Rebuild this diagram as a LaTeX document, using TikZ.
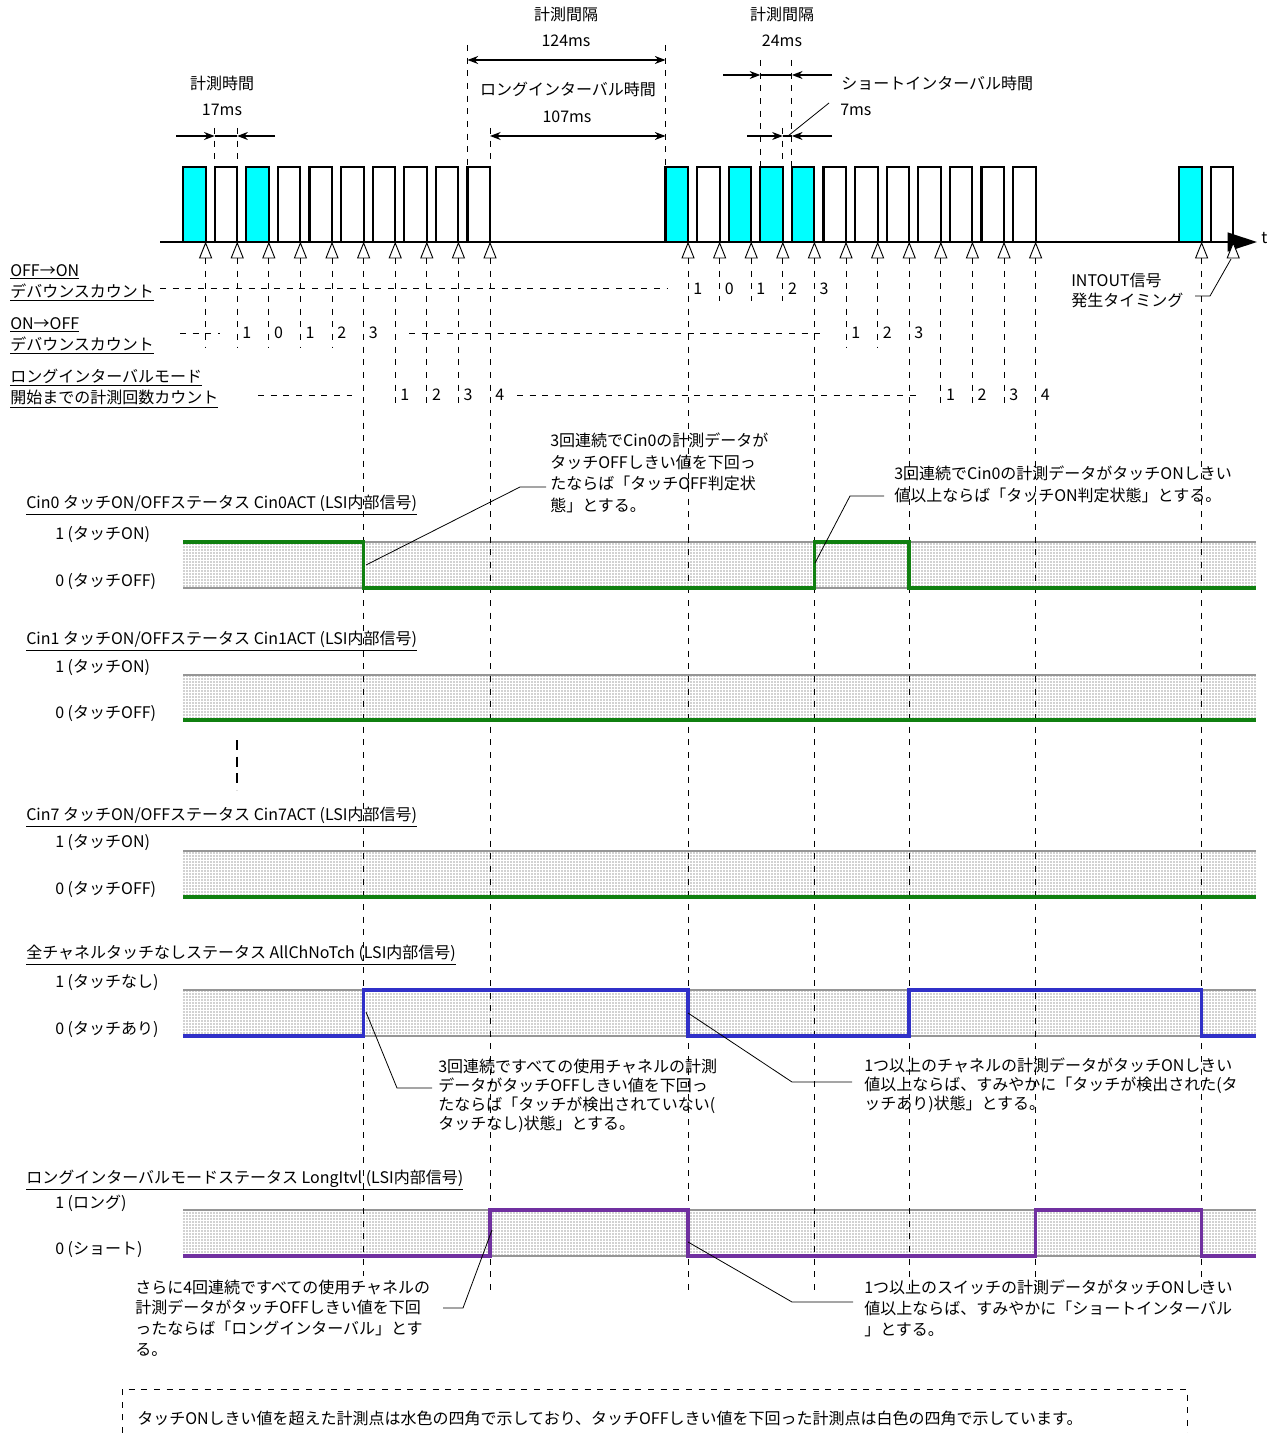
\documentclass[tikz,border=0pt]{standalone}
\usepackage{fontspec}
\setmainfont{Noto Sans CJK JP}
\usetikzlibrary{arrows.meta,patterns}
\pgfdeclarepatternformonly{finedots}{\pgfqpoint{0pt}{0pt}}{\pgfqpoint{2.25pt}{2.25pt}}{\pgfqpoint{2.25pt}{2.25pt}}{%
  \pgfpathrectangle{\pgfqpoint{0.4pt}{0.4pt}}{\pgfqpoint{1.15pt}{1.15pt}}\pgfusepath{fill}}
\definecolor{sigcyan}{RGB}{0,255,255}
\definecolor{siggreen}{RGB}{16,128,16}
\definecolor{sigblue}{RGB}{48,48,200}
\definecolor{sigpurple}{RGB}{112,48,160}
\definecolor{edgegray}{RGB}{150,150,150}
\definecolor{dotgray}{RGB}{150,150,150}
\begin{document}
\begin{tikzpicture}[x=0.75pt,y=-0.75pt,
  txtst/.style={font=\fontsize{12pt}{15pt}\selectfont, inner sep=0pt},
  annot/.style={txtst, anchor=west, align=left},
  dashln/.style={dash pattern=on 4.5pt off 5pt, line width=0.65pt},
  dimln/.style={line width=0.9pt},
  dimarr/.style={line width=0.9pt, -{Stealth[length=8pt,width=6pt]}},
  dimboth/.style={line width=0.9pt, {Stealth[length=8pt,width=6pt]}-{Stealth[length=8pt,width=6pt]}},
  leadln/.style={line width=0.6pt},
  pulsebox/.style={draw, line width=1.6pt},
  measmark/.style={draw, line width=0.7pt, fill=white, line join=miter},
  bandfill/.style={pattern=finedots, pattern color=dotgray},
  bandline/.style={draw=edgegray, line width=1.5pt},
  sigln/.style={line width=2.7pt, line join=miter},
]
\useasboundingbox (0,0) rectangle (1274,1433);
\fill[white] (0,0) rectangle (1274,1433);

% ---------------- pulses ----------------
\foreach \r/\c in {205.6/sigcyan,237.2/white,268.8/sigcyan,300.4/white,332/white,363.6/white,395.2/white,426.8/white,458.4/white,490/white,
 688/sigcyan,719.6/white,751.2/sigcyan,782.8/sigcyan,814.4/sigcyan,846/white,877.6/white,909.2/white,940.8/white,972.4/white,1004/white,1035.6/white,
 1201.6/sigcyan,1233.2/white}
  \draw[pulsebox, fill=\c] ({\r-22.5},167) rectangle (\r,242);

\draw[line width=1.5pt, -{Triangle[length=22pt,width=14pt]}] (160,242) -- (1257,242);
\node[txtst, anchor=west] (tlab) at (1261,238) {t};

\foreach \r in {205.6,237.2,268.8,300.4,332,363.6,395.2,426.8,458.4,490,
 688,719.6,751.2,782.8,814.4,846,877.6,909.2,940.8,972.4,1004,1035.6,1201.6,1233.2}
  \draw[measmark] (\r,243) -- ({\r-6},258) -- ({\r+6},258) -- cycle;

% ---------------- top dimensions ----------------
\draw[dashln] (214.7,128) -- (214.7,167);
\draw[dashln] (237.2,128) -- (237.2,167);
\node[txtst] (tmeas) at (222,83) {計測時間};
\node[txtst] (tmeasv) at (222,110) {17ms};
\coordinate (d1a) at (176,136); \coordinate (d1b) at (214.7,136);
\coordinate (d1c) at (237.2,136); \coordinate (d1d) at (275,136);
\draw[dimln] (d1b) -- (d1c);
\draw[dimarr] (d1a) -- (d1b);
\draw[dimarr] (d1d) -- (d1c);

\draw[dashln] (467.5,45) -- (467.5,167);
\draw[dashln] (665.5,45) -- (665.5,167);
\draw[dashln] (490,128) -- (490,167);
\node[txtst] (iv1) at (566,14) {計測間隔};
\node[txtst] (iv1v) at (566,41) {124ms};
\coordinate (d2a) at (467.5,60); \coordinate (d2b) at (665.5,60);
\draw[dimboth] (d2a) -- (d2b);
\node[txtst] (lit) at (568,89) {ロングインターバル時間};
\node[txtst] (litv) at (567,117) {107ms};
\coordinate (d3a) at (490,136); \coordinate (d3b) at (665.5,136);
\draw[dimboth] (d3a) -- (d3b);

\draw[dashln] (760.3,60) -- (760.3,167);
\draw[dashln] (791.9,60) -- (791.9,167);
\draw[dashln] (782.8,128) -- (782.8,167);
\node[txtst] (iv2) at (782,14) {計測間隔};
\node[txtst] (iv2v) at (782,41) {24ms};
\coordinate (d4a) at (723,75); \coordinate (d4b) at (760.3,75);
\coordinate (d4c) at (791.9,75); \coordinate (d4d) at (832,75);
\draw[dimln] (d4b) -- (d4c);
\draw[dimarr] (d4a) -- (d4b);
\draw[dimarr] (d4d) -- (d4c);
\node[txtst, anchor=west] (sit) at (841,83) {ショートインターバル時間};
\node[txtst, anchor=west] (sitv) at (840,110) {7ms};
\coordinate (d5a) at (747,136); \coordinate (d5b) at (782.8,136);
\coordinate (d5c) at (791.9,136); \coordinate (d5d) at (832,136);
\draw[dimln] (d5b) -- (d5c);
\draw[dimarr] (d5a) -- (d5b);
\draw[dimarr] (d5d) -- (d5c);
\coordinate (l7a) at (788,136); \coordinate (l7b) at (829,103);
\draw[leadln] (l7a) -- (l7b);

% ---------------- INTOUT ----------------
\node[annot, font=\fontsize{12pt}{15pt}\selectfont] (intout) at (1071,290) {INTOUT信号\\発生タイミング};
\coordinate (lia) at (1195,296); \coordinate (lib) at (1210,296); \coordinate (lic) at (1231,259);
\draw[leadln] (lia) -- (lib) -- (lic);

% ---------------- count rows ----------------
\node[annot, font=\fontsize{12pt}{15.75pt}\selectfont] (row1) at (10,282.5) {\underline{OFF→ON}\\\underline{デバウンスカウント}};
\node[annot, font=\fontsize{12pt}{15.75pt}\selectfont] (row2) at (10,335.5) {\underline{ON→OFF}\\\underline{デバウンスカウント}};
\node[annot, font=\fontsize{12pt}{15.75pt}\selectfont] (row3) at (10,388.5) {\underline{ロングインターバルモード}\\\underline{開始までの計測回数カウント}};

\foreach \x in {205.6,237.2,268.8,300.4,332} \draw[dashln] (\x,258) -- (\x,348);
\foreach \x in {395.2,426.8,458.4,940.8,972.4,1004} \draw[dashln] (\x,258) -- (\x,407);
\foreach \x in {719.6,751.2,782.8} \draw[dashln] (\x,258) -- (\x,301);
\foreach \x in {846,877.6} \draw[dashln] (\x,258) -- (\x,347);

\draw[dashln] (160,288) -- (667,288);
\draw[dashln] (180,333) -- (220,333);
\draw[dashln] (409,333) -- (823,333);
\draw[dashln] (258,395) -- (352,395);
\draw[dashln] (517,395) -- (920,395);

\foreach \x/\n [count=\k] in {688/1,719.6/0,751.2/1,782.8/2,814.4/3}
  \node[txtst, anchor=west] (ca\k) at ({\x+5},289) {\n};
\foreach \x/\n [count=\k] in {237.2/1,268.8/0,300.4/1,332/2,363.6/3,846/1,877.6/2,909.2/3}
  \node[txtst, anchor=west] (cb\k) at ({\x+5},333) {\n};
\foreach \x/\n [count=\k] in {395.2/1,426.8/2,458.4/3,490/4,940.8/1,972.4/2,1004/3,1035.6/4}
  \node[txtst, anchor=west] (cc\k) at ({\x+5},395) {\n};

% ---------------- bands ----------------
\foreach \tp/\bt in {542/588,675/720,851/897,990/1036,1210/1256} {
  \fill[white] (183,\tp) rectangle (1256,\bt);
  \fill[bandfill] (183,\tp) rectangle (1256,\bt);
  \draw[bandline] (183,\tp) -- (1256,\tp);
  \draw[bandline] (183,\bt) -- (1256,\bt);
}

% long vertical dashed lines
\draw[dashln] (363.6,258) -- (363.6,1276);
\foreach \x in {490,688,814.4,909.2,1035.6,1201.6} \draw[dashln] (\x,258) -- (\x,1290);

% signals
\draw[sigln, siggreen] (183,542) -- (363.6,542) -- (363.6,588) -- (814.4,588) -- (814.4,542) -- (909.2,542) -- (909.2,588) -- (1256,588);
\draw[sigln, siggreen] (183,720) -- (1256,720);
\draw[sigln, siggreen] (183,897) -- (1256,897);
\draw[sigln, sigblue] (183,1036) -- (363.6,1036) -- (363.6,990) -- (688,990) -- (688,1036) -- (909.2,1036) -- (909.2,990) -- (1201.6,990) -- (1201.6,1036) -- (1256,1036);
\draw[sigln, sigpurple] (183,1256) -- (490,1256) -- (490,1210) -- (688,1210) -- (688,1256) -- (1035.6,1256) -- (1035.6,1210) -- (1201.6,1210) -- (1201.6,1256) -- (1256,1256);

\draw[line width=1.5pt, dash pattern=on 7.5pt off 5pt] (237,740) -- (237,790);

% titles and levels
\node[txtst, anchor=west] (ti0) at (26,505) {\underline{Cin0 タッチON/OFFステータス Cin0ACT (LSI内部信号)}};
\node[txtst, anchor=west] (ti1) at (26,641) {\underline{Cin1 タッチON/OFFステータス Cin1ACT (LSI内部信号)}};
\node[txtst, anchor=west] (ti7) at (26,817) {\underline{Cin7 タッチON/OFFステータス Cin7ACT (LSI内部信号)}};
\node[txtst, anchor=west] (tia) at (26,955) {\underline{全チャネルタッチなしステータス AllChNoTch (LSI内部信号)}};
\node[txtst, anchor=west] (til) at (26,1180) {\underline{ロングインターバルモードステータス LongItvl (LSI内部信号)}};

\node[txtst, anchor=west] (h0) at (55,535) {1 (タッチON)};
\node[txtst, anchor=west] (z0) at (55,582) {0 (タッチOFF)};
\node[txtst, anchor=west] (h1) at (55,668) {1 (タッチON)};
\node[txtst, anchor=west] (z1) at (55,714) {0 (タッチOFF)};
\node[txtst, anchor=west] (h7) at (55,843) {1 (タッチON)};
\node[txtst, anchor=west] (z7) at (55,890) {0 (タッチOFF)};
\node[txtst, anchor=west] (ha) at (55,983) {1 (タッチなし)};
\node[txtst, anchor=west] (za) at (55,1030) {0 (タッチあり)};
\node[txtst, anchor=west] (hl) at (55,1203) {1 (ロング)};
\node[txtst, anchor=west] (zl) at (55,1250) {0 (ショート)};

% annotations
\node[annot, font=\fontsize{12pt}{16.3pt}\selectfont] (an0) at (550,473) {3回連続でCin0の計測データが\\タッチOFFしきい値を下回っ\\たならば「タッチOFF判定状\\態」とする。};
\coordinate (p0a) at (366,565); \coordinate (p0b) at (520,487); \coordinate (p0c) at (546,487);
\draw[leadln] (p0a) -- (p0b) -- (p0c);

\node[annot, font=\fontsize{12pt}{16.5pt}\selectfont] (an1) at (894,484) {3回連続でCin0の計測データがタッチONしきい\\値以上ならば「タッチON判定状態」とする。};
\coordinate (p1a) at (815,563); \coordinate (p1b) at (850,496); \coordinate (p1c) at (884,496);
\draw[leadln] (p1a) -- (p1b) -- (p1c);

\node[annot, font=\fontsize{12pt}{14.25pt}\selectfont] (an2) at (438,1095.5) {3回連続ですべての使用チャネルの計測\\データがタッチOFFしきい値を下回っ\\たならば「タッチが検出されていない(\\タッチなし)状態」とする。};
\coordinate (p2a) at (366,1012); \coordinate (p2b) at (397,1088); \coordinate (p2c) at (432,1088);
\draw[leadln] (p2a) -- (p2b) -- (p2c);

\node[annot, font=\fontsize{12pt}{14.25pt}\selectfont] (an3) at (864,1085) {1つ以上のチャネルの計測データがタッチONしきい\\値以上ならば、すみやかに「タッチが検出された(タ\\ッチあり)状態」とする。};
\coordinate (p3a) at (688,1013); \coordinate (p3b) at (792,1082); \coordinate (p3c) at (852,1082);
\draw[leadln] (p3a) -- (p3b) -- (p3c);

\node[annot, font=\fontsize{12pt}{15.5pt}\selectfont] (an4) at (135,1318) {さらに4回連続ですべての使用チャネルの\\計測データがタッチOFFしきい値を下回\\ったならば「ロングインターバル」とす\\る。};
\coordinate (p4a) at (492,1230); \coordinate (p4b) at (463,1308); \coordinate (p4c) at (443,1308);
\draw[leadln] (p4a) -- (p4b) -- (p4c);

\node[annot, font=\fontsize{12pt}{15.75pt}\selectfont] (an5) at (864,1308) {1つ以上のスイッチの計測データがタッチONしきい\\値以上ならば、すみやかに「ショートインターバル\\」とする。};
\coordinate (p5a) at (688,1242); \coordinate (p5b) at (792,1302); \coordinate (p5c) at (853,1302);
\draw[leadln] (p5a) -- (p5b) -- (p5c);

% footer
\draw[dashln] (122,1433) -- (122,1389) -- (1187,1389) -- (1187,1433);
\node[txtst, anchor=west] (foot) at (137,1418) {タッチONしきい値を超えた計測点は水色の四角で示しており、タッチOFFしきい値を下回った計測点は白色の四角で示しています。};
\end{tikzpicture}
\end{document}
